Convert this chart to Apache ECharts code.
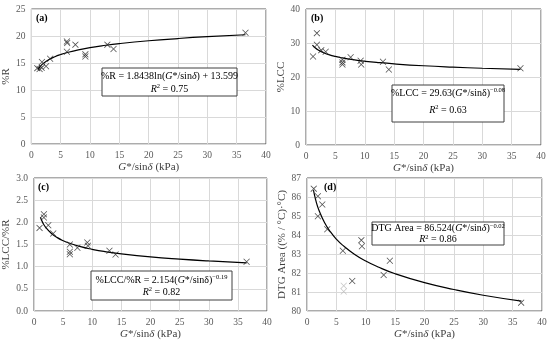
<!DOCTYPE html>
<html><head><meta charset="utf-8">
<script src="https://cdn.jsdelivr.net/npm/echarts@6/dist/echarts.min.js"></script>
<style>html,body{margin:0;padding:0;background:#fff}#c{width:550px;height:344px}</style>
</head><body><div id="c"></div>
<script>
// ---- data ----
const xTicks = [0, 5, 10, 15, 20, 25, 30, 35, 40];

const aX = [1.0, 1.4, 1.75, 1.8, 2.5, 3.2, 6.05, 6.05, 6.1, 7.5, 9.2, 9.2, 12.95, 14.0, 36.5];
const aY = [14.05, 13.9, 14.1, 15.2, 14.4, 15.8, 17.1, 19.0, 18.7, 18.4, 16.6, 16.2, 18.4, 17.6, 20.6];

const bX = [1.2, 1.85, 1.85, 2.6, 3.35, 6.2, 6.2, 6.2, 7.6, 9.3, 9.4, 13.1, 14.1, 36.5];
const bY = [26.0, 32.9, 29.5, 27.9, 27.4, 25.1, 24.3, 23.7, 25.8, 24.8, 23.7, 24.5, 22.2, 22.6];

const cX = [0.95, 1.7, 1.7, 2.45, 3.3, 6.15, 6.15, 6.15, 7.45, 9.15, 9.25, 12.95, 14.0, 36.5];
const cY = [1.875, 2.18, 2.11, 1.935, 1.75, 1.50, 1.335, 1.28, 1.425, 1.545, 1.47, 1.36, 1.275, 1.11];

const dX = [1.15, 1.85, 2.6, 1.85, 3.45, 6.1, 7.7, 9.25, 9.35, 13.05, 14.1, 36.45];
const dY = [86.44, 86.04, 85.6, 84.99, 84.3, 83.17, 81.58, 83.73, 83.41, 81.89, 82.64, 80.44];
const dGrayX = [6.25, 6.25];
const dGrayY = [81.33, 81.03];

// trendlines
const curveX = [1.1, 1.5, 2, 3, 4, 5, 6, 8, 10, 12, 15, 20, 25, 30, 36.5];
const aCurve = [13.78, 14.35, 14.88, 15.63, 16.16, 16.57, 16.90, 17.43, 17.85, 18.18, 18.59, 19.12, 19.53, 19.87, 20.23];
const bCurve = [29.40, 28.69, 28.03, 27.14, 26.52, 26.05, 25.67, 25.09, 24.65, 24.29, 23.86, 23.31, 22.90, 22.57, 22.22];
const cCurve = [2.115, 1.994, 1.888, 1.748, 1.655, 1.586, 1.533, 1.451, 1.391, 1.343, 1.288, 1.219, 1.169, 1.129, 1.087];
const dCurve = [86.36, 85.82, 85.33, 84.64, 84.16, 83.78, 83.48, 83.00, 82.63, 82.33, 81.96, 81.49, 81.13, 80.83, 80.52];

const yA = {min: 0, max: 25, interval: 5};
const yB = {min: 0, max: 40, interval: 10};
const yC = {min: 0, max: 3, interval: 0.5};
const yD = {min: 80, max: 87, interval: 1};

// ---- build ----
const FONT = '"Liberation Serif", "DejaVu Serif", serif';
const X_SYM = 'path://M0,0.8L0.8,0L5,4.2L9.2,0L10,0.8L5.8,5L10,9.2L9.2,10L5,5.8L0.8,10L0,9.2L4.2,5Z';
const zip = (xs, ys) => xs.map((x, i) => [x, ys[i]]);

const grids = [
  {left: 31, top: 9, width: 235, height: 135},
  {left: 306, top: 9, width: 235, height: 136},
  {left: 32, top: 178, width: 235, height: 133},
  {left: 307, top: 178, width: 235, height: 133}
].map(g => Object.assign(g, {show: true, borderColor: '#595959', borderWidth: 1, containLabel: false}));

const xName = '{i|G}*/sin{i|δ} (kPa)';
const xAxes = [0, 1, 2, 3].map(i => ({
  gridIndex: i, type: 'value', min: 0, max: 40, interval: 5,
  name: xName, nameLocation: 'middle', nameGap: 18,
  nameTextStyle: {fontFamily: FONT, fontSize: 11, color: '#404040', rich: {i: {fontStyle: 'italic', fontFamily: FONT, fontSize: 11, color: '#404040'}}},
  axisLine: {show: false}, axisTick: {show: false},
  axisLabel: {fontFamily: FONT, fontSize: 9.5, color: '#595959', margin: 6},
  splitLine: {show: true, lineStyle: {color: '#d9d9d9', width: 1}}
}));

const yNames = ['%R', '%LCC', '%LCC/%R', 'DTG Area ((% / °C)·°C)'];
const yRanges = [yA, yB, yC, yD];
const yFmt = [v => v, v => v, v => v.toFixed(1), v => v];
const yGaps = [17, 17, 22, 17];
const yAxes = [0, 1, 2, 3].map(i => Object.assign({
  gridIndex: i, type: 'value',
  name: yNames[i], nameLocation: 'middle', nameGap: yGaps[i], nameRotate: 90,
  nameTextStyle: {fontFamily: FONT, fontSize: 11, color: '#404040'},
  axisLine: {show: false}, axisTick: {show: false},
  axisLabel: {fontFamily: FONT, fontSize: 9.5, color: '#595959', margin: 6, formatter: yFmt[i]},
  splitLine: {show: true, lineStyle: {color: '#d9d9d9', width: 1}}
}, yRanges[i]));

const scat = (i, xs, ys, color) => ({
  type: 'scatter', xAxisIndex: i, yAxisIndex: i, data: zip(xs, ys),
  symbol: X_SYM, symbolSize: 6.5, itemStyle: {color: color}, z: 3
});
const curve = (i, ys) => ({
  type: 'line', xAxisIndex: i, yAxisIndex: i, data: zip(curveX, ys),
  smooth: true, showSymbol: false, symbol: 'none',
  lineStyle: {color: '#000', width: 1.2}, z: 2
});

const rich = {
  n: {fontFamily: FONT, fontSize: 10, color: '#000', lineHeight: 12},
  i: {fontFamily: FONT, fontSize: 10, color: '#000', fontStyle: 'italic', lineHeight: 12},
  s: {fontFamily: FONT, fontSize: 6.5, color: '#000', lineHeight: 7, verticalAlign: 'top'}
};
const rects = [], texts = [];
function box(x, y, w, h, line1, line2, y1, y2) {
  rects.push({type: 'rect', z: 10, shape: {x: x, y: y, width: w, height: h}, style: {fill: '#fff', stroke: '#404040', lineWidth: 1}});
  texts.push({type: 'text', z: 20, x: x + w / 2, y: y1, style: {text: line1, rich: rich, align: 'center', verticalAlign: 'middle', fontFamily: FONT, fontSize: 10}});
  texts.push({type: 'text', z: 20, x: x + w / 2, y: y2, style: {text: line2, rich: rich, align: 'center', verticalAlign: 'middle', fontFamily: FONT, fontSize: 10}});
}
box(102, 68, 135, 28, '{n|%R = 1.8438ln(}{i|G}{n|*/sin}{i|δ}{n|) + 13.599}', '{i|R}{s|2}{n| = 0.75}', 76, 89);
box(392, 85, 112, 37, '{n|%LCC = 29.63(}{i|G}{n|*/sinδ)}{s|−0.08}', '{i|R}{s|2}{n| = 0.63}', 93, 110);
box(91, 271, 141, 29, '{n|%LCC/%R = 2.154(}{i|G}{n|*/sinδ)}{s|−0.19}', '{i|R}{s|2}{n| = 0.82}', 280, 292);
box(372, 222, 132, 23, '{n|DTG Area = 86.524(}{i|G}{n|*/sin}{i|δ}{n|)}{s|−0.02}', '{i|R}{s|2}{n| = 0.86}', 228.5, 239.5);

const label = (x, y, t) => ({type: 'text', x: x, y: y, z: 20, style: {text: t, fontFamily: FONT, fontSize: 10, fontWeight: 'bold', fill: '#000', verticalAlign: 'middle'}});

const option = {
  animation: false,
  backgroundColor: '#fff',
  grid: grids, xAxis: xAxes, yAxis: yAxes,
  series: [
    curve(0, aCurve), scat(0, aX, aY, '#222'),
    curve(1, bCurve), scat(1, bX, bY, '#222'),
    curve(2, cCurve), scat(2, cX, cY, '#222'),
    curve(3, dCurve), scat(3, dX, dY, '#222'), scat(3, dGrayX, dGrayY, '#b8b8b8')
  ],
  graphic: [
    label(36, 18, '(a)'), label(311, 18, '(b)'),
    label(38, 187, '(c)'), label(324, 187, '(d)')
  ].concat(rects, texts)
};
echarts.init(document.getElementById('c'), null, {renderer: 'canvas'}).setOption(option);
</script></body></html>
